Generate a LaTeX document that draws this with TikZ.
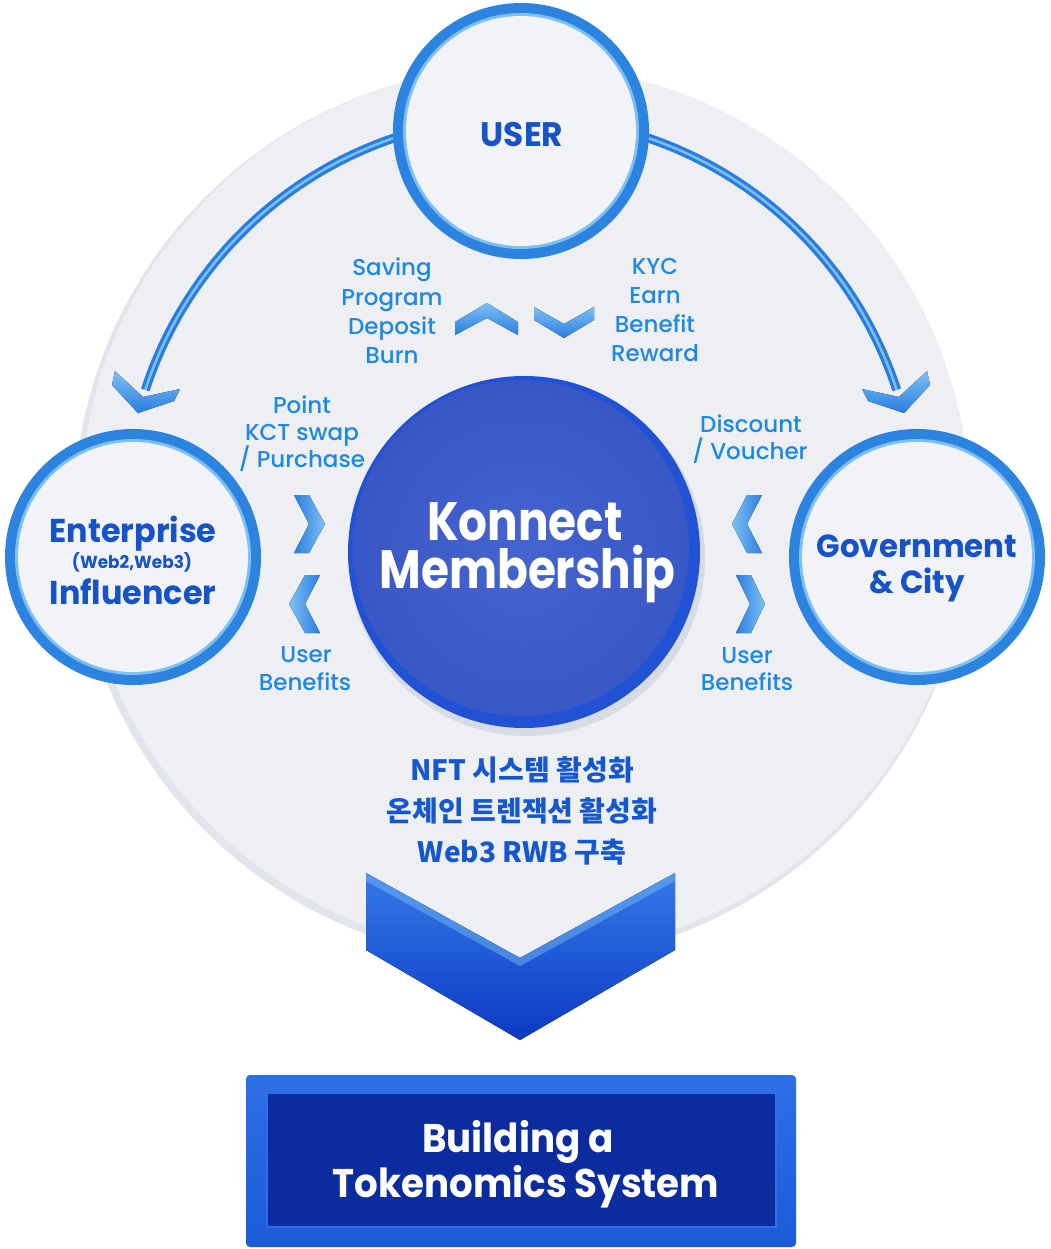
\documentclass[tikz,border=0pt]{standalone}
\usepackage{fontspec}
\setmainfont{Poppins}
\newfontfamily\popmed{Poppins Medium}
\newfontfamily\popbold{Poppins Bold}[FakeStretch=0.965]
\newfontfamily\kmfont{Poppins Bold}[FakeStretch=0.84]
\newfontfamily\boxfont{Poppins Bold}[FakeStretch=0.93]
\newfontfamily\krfont{Noto Sans CJK KR}
\usetikzlibrary{calc}
\definecolor{headblue}{HTML}{1652C9}
\definecolor{lblblue}{HTML}{1E88E5}
\definecolor{ringblue}{HTML}{2C83E0}
\definecolor{ringlight}{HTML}{7CC0F3}
\definecolor{facegrey}{HTML}{F2F3F6}
\definecolor{discgrey}{HTML}{EDEFF3}
\definecolor{discedge}{HTML}{E2E5EB}
\definecolor{kmrim}{HTML}{2152D4}
\definecolor{kmface}{HTML}{3857C6}
\definecolor{kmlight}{HTML}{4664CF}
\definecolor{kmshade}{HTML}{C9CFDC}
\definecolor{navy}{HTML}{0B2C9E}
\definecolor{frameblue}{HTML}{1C5BD8}
\definecolor{framelight}{HTML}{2E6EE6}
\definecolor{chevdark}{HTML}{2A7DE0}
\definecolor{chevlight}{HTML}{7DC1F4}
\definecolor{bigtop}{HTML}{3579E8}
\definecolor{bigbot}{HTML}{0B39C2}
\definecolor{krblue}{HTML}{1557CF}
\tikzset{
  ringnode/.style={circle, inner sep=0, minimum size=256, fill=ringblue,
    path picture={\fill[ringlight] (path picture bounding box.center) circle (118);
                  \fill[facegrey] (path picture bounding box.center) circle (115);}},
  kmnode/.style={circle, inner sep=0, minimum size=352, fill=kmrim,
    path picture={\shade[inner color=kmlight, outer color=kmface]
       ($(path picture bounding box.center)+(-3,-4)$) circle (168);}},
  head/.style={text=headblue, inner sep=0, anchor=base},
  lbl/.style={text=lblblue, inner sep=0, anchor=base, font={\popmed\fontsize{23}{28}\selectfont}},
  kr/.style={text=krblue, inner sep=0, anchor=base, font={\krfont\bfseries\fontsize{28}{32}\selectfont}},
  whitetext/.style={text=white, inner sep=0, anchor=base},
  arcline/.style={draw=chevdark, line width=9, postaction={draw=ringlight, line width=2.5}},
  chevL/.style={left color=chevdark, right color=chevlight},
  chevR/.style={left color=chevlight, right color=chevdark},
  chevV/.style={top color=chevlight, bottom color=chevdark},
}
\begin{document}
\begin{tikzpicture}[x=1pt, y=-1pt]
\useasboundingbox (0,0) rectangle (1050,1249);
\fill[white] (0,0) rectangle (1050,1249);

% background disc
\node[circle, inner sep=0, minimum size=896, fill=discedge] (discshadow) at (522,514) {};
\node[circle, inner sep=0, minimum size=890, fill=discgrey] (disc) at (525,510) {};

% arcs
\coordinate (arcc) at (521,512);
\coordinate (la) at ($(arcc)+(-106:395)$);
\coordinate (ra) at ($(arcc)+(-74:395)$);
\draw[arcline] (la) arc[start angle=-106, end angle=-162, radius=395];
\draw[arcline] (ra) arc[start angle=-74, end angle=-18, radius=395];
% arc arrowheads
\fill[top color=chevlight, bottom color=chevdark] (115,371) -- (143,397) -- (180,389) -- (174,401) -- (138,413) -- (112,385) -- cycle;
\fill[top color=chevlight, bottom color=chevdark] (927,371) -- (899,397) -- (862,389) -- (868,401) -- (904,413) -- (930,385) -- cycle;

% circles
\node[ringnode] (user) at (521,131) {};
\node[ringnode] (ent) at (133,557) {};
\node[ringnode] (gov) at (917,557) {};
\node[circle, inner sep=0, minimum size=356, fill=kmshade, opacity=0.6] (kmsh) at (527,558) {};
\node[kmnode] (km) at (524,552) {};

% chevrons
\fill[chevV] (455,322) -- (487,303) -- (518,322) -- (518,335) -- (487,318) -- (455,335) -- cycle;
\fill[chevV] (534,307) -- (564,324) -- (594,307) -- (594,320) -- (564,338) -- (534,320) -- cycle;
\fill[chevL] (294,495) -- (309,495) -- (325,524) -- (309,553) -- (294,553) -- (309,524) -- cycle;
\fill[chevR] (320,575) -- (305,575) -- (289,604) -- (305,633) -- (320,633) -- (305,604) -- cycle;
\fill[chevR] (762,495) -- (747,495) -- (732,524) -- (747,553) -- (762,553) -- (747,524) -- cycle;
\fill[chevL] (736,575) -- (751,575) -- (765,604) -- (751,633) -- (736,633) -- (750,604) -- cycle;

% heading texts
\node[head, font={\popbold\fontsize{34}{40}\selectfont}] (usert) at (522,147) {USER};
\node[head, font={\popbold\fontsize{33}{40}\selectfont}] (entt1) at (133,542) {Enterprise};
\node[head, font={\popbold\fontsize{17.5}{20}\selectfont}] (entt2) at (132,568) {(Web2,Web3)};
\node[head, font={\popbold\fontsize{33}{40}\selectfont}] (entt3) at (133,604) {Influencer};
\node[head, font={\popbold\fontsize{32}{40}\selectfont}] (govt1) at (917,557) {Government};
\node[head, font={\popbold\fontsize{32}{40}\selectfont}] (govt2) at (917,593) {\&~City};

% labels
\node[lbl] (s1) at (392,276) {Saving};
\node[lbl] (s2) at (392,305) {Program};
\node[lbl] (s3) at (392,334) {Deposit};
\node[lbl] (s4) at (392,363) {Burn};
\node[lbl] (k1) at (655,274) {KYC};
\node[lbl] (k2) at (655,303) {Earn};
\node[lbl] (k3) at (655,332) {Benefit};
\node[lbl] (k4) at (655,361) {Reward};
\node[lbl] (p1) at (302,413) {Point};
\node[lbl] (p2) at (302,440) {KCT swap};
\node[lbl] (p3) at (302,467) {/ Purchase};
\node[lbl] (d1) at (751,432) {Discount};
\node[lbl] (d2) at (750,459) {/ Voucher};
\node[lbl] (ub1) at (306,662) {User};
\node[lbl] (ub2) at (305,690) {Benefits};
\node[lbl] (ub3) at (747,663) {User};
\node[lbl] (ub4) at (747,690) {Benefits};

% Konnect Membership (one two-line node; base = last line)
\node[whitetext, align=center, font={\kmfont\fontsize{54}{48}\selectfont}] (kmt) at (525,588) {Konnect\\\hspace*{5pt}Membership};

% Korean text
\node[kr] (kr1) at (522,780) {NFT 시스템 활성화};
\node[kr] (kr2) at (522,821) {온체인 트렌잭션 활성화};
\node[kr] (kr3) at (522,862) {Web3 RWB 구축};

% big arrow
\fill[top color=bigtop, bottom color=bigbot] (366,873) -- (520,958) -- (675,873) -- (675,950) -- (520,1040) -- (366,950) -- cycle;
\fill[chevlight, opacity=0.45] (366,873) -- (520,958) -- (675,873) -- (675,881) -- (520,966) -- (366,881) -- cycle;

% bottom box
\node[rectangle, rounded corners=4, minimum width=550, minimum height=172, inner sep=0,
      top color=framelight, bottom color=frameblue] (box) at (521,1161) {};
\node[rectangle, minimum width=509, minimum height=134, inner sep=0, fill=navy,
      draw=framelight, line width=2] (boxin) at (521.5,1160) {};
\node[whitetext, font={\boxfont\fontsize{40}{46}\selectfont}] (bt1) at (518,1152) {Building a};
\node[whitetext, font={\boxfont\fontsize{40}{46}\selectfont}] (bt2) at (526,1197) {Tokenomics System};
\end{tikzpicture}
\end{document}
